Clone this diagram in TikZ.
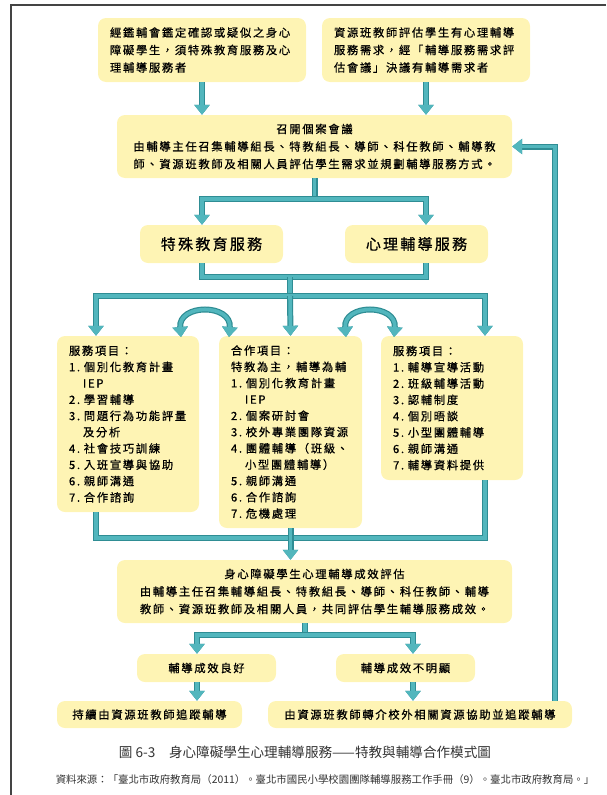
\documentclass[tikz,border=0pt]{standalone}
\usepackage{fontspec}
\setmainfont{Noto Sans CJK TC}
\newfontfamily\bxfont[LetterSpace=15,FakeBold=0.7]{Noto Sans CJK TC}
\usetikzlibrary{arrows.meta}
\definecolor{boxy}{HTML}{FEF4B4}
\definecolor{pipec}{HTML}{52B6BD}
\definecolor{piped}{HTML}{2F8D94}
\definecolor{framec}{HTML}{444444}
\tikzset{
  box/.style={fill=boxy, rounded corners=8pt, inner xsep=12pt, inner ysep=0pt,
    font=\bxfont\fontsize{11.3}{17.5}\selectfont},
  listbox/.style={box, align=left, font=\bxfont\fontsize{11.3}{16.3}\selectfont},
  bigbox/.style={box, align=center, font=\bxfont\fontsize{15}{18}\selectfont},
  pipe/.style={draw=pipec, line width=3.6pt, line join=miter,
    preaction={draw=piped, line width=6pt}},
  arr/.style={pipe, -{Triangle[width=15pt,length=10pt]}},
  arrb/.style={pipe, {Triangle[width=15pt,length=10pt]}-{Triangle[width=15pt,length=10pt]}},
}
\begin{document}
\begin{tikzpicture}[x=1pt,y=-1pt]
\useasboundingbox (0,0) rectangle (606,795);
\draw[framec, line width=1.5pt] (11,795) -- (11,5) -- (606,5);

% top boxes
\node[box, align=left, text width=184pt, minimum height=64pt] (A) at (202,50)
  {經鑑輔會鑑定確認或疑似之身心\\障礙學生，須特殊教育服務及心\\理輔導服務者};
\node[box, align=left, text width=184pt, minimum height=64pt] (B) at (426,50)
  {資源班教師評估學生有心理輔導\\服務需求，經「輔導服務需求評\\估會議」決議有輔導需求者};
\node[box, align=center, text width=371pt, minimum height=63pt] (C) at (314.5,146.5)
  {召開個案會議\\由輔導主任召集輔導組長、特教組長、導師、科任教師、輔導教\\師、資源班教師及相關人員評估學生需求並規劃輔導服務方式。};

\node[bigbox, text width=119pt, minimum height=38pt] (D) at (211.5,244) {特殊教育服務};
\node[bigbox, text width=119pt, minimum height=38pt] (E) at (416.5,244) {心理輔導服務};

\node[listbox, text width=118pt, minimum height=176pt] (F) at (128,424)
  {服務項目：\\1.~個別化教育計畫\\\hspace*{14pt}IEP\\2.~學習輔導\\3.~問題行為功能評量\\\hspace*{14pt}及分析\\4.~社會技巧訓練\\5.~入班宣導與協助\\6.~親師溝通\\7.~合作諮詢};
\node[listbox, text width=119pt, minimum height=192pt] (G) at (290.5,432)
  {合作項目：\\特教為主，輔導為輔\\1.~個別化教育計畫\\\hspace*{14pt}IEP\\2.~個案研討會\\3.~校外專業團隊資源\\4.~團體輔導（班級、\\\hspace*{14pt}小型團體輔導）\\5.~親師溝通\\6.~合作諮詢\\7.~危機處理};
\node[listbox, text width=118pt, minimum height=144pt] (H) at (452,408)
  {服務項目：\\1.~輔導宣導活動\\2.~班級輔導活動\\3.~認輔制度\\4.~個別晤談\\5.~小型團體輔導\\6.~親師溝通\\7.~輔導資料提供};

\node[box, align=center, text width=371pt, minimum height=63pt] (I) at (314.5,591.5)
  {身心障礙學生心理輔導成效評估\\由輔導主任召集輔導組長、特教組長、導師、科任教師、輔導\\教師、資源班教師及相關人員，共同評估學生輔導服務成效。};

\node[box, align=center, text width=115pt, minimum height=28pt] (J) at (206.5,668) {輔導成效良好};
\node[box, align=center, text width=115pt, minimum height=28pt] (K) at (405.5,668) {輔導成效不明顯};
\node[box, align=center, text width=161pt, minimum height=27pt] (L) at (149.5,714.5) {持續由資源班教師追蹤輔導};
\node[box, align=center, text width=280pt, minimum height=27pt] (M) at (420,714.5) {由資源班教師轉介校外相關資源協助並追蹤輔導};

% caption
\node[text=black!80, font=\fontsize{13.6}{15}\selectfont] (cap) at (305,752)
  {圖 6-3\quad 身心障礙學生心理輔導服務——特教與輔導合作模式圖};
\node[text=black!80, font=\fontsize{10.4}{12}\selectfont] (src) at (325,780)
  {資料來源：「臺北市政府教育局（2011）。臺北市國民小學校園團隊輔導服務工作手冊（9）。臺北市政府教育局。」};

% helper coordinates
\coordinate (s1) at (314,199);
\coordinate (s2) at (290,277);
\coordinate (s3) at (290,296);
\coordinate (s4) at (290,538);
\coordinate (s5) at (305,635);
\coordinate (fx) at (96,0);
\coordinate (hx) at (485,0);
\coordinate (jx) at (197,0);
\coordinate (kx) at (413,0);
\coordinate (fbx) at (555,0);
\coordinate (c1a) at (181,337);
\coordinate (c1b) at (229,337);
\coordinate (c2a) at (346,337);
\coordinate (c2b) at (394,337);

% connectors
\draw[arr] (A.south) -- (A.south |- C.north);
\draw[arr] (B.south) -- (B.south |- C.north);
\draw[pipe] (C.south) -- (C.south |- s1);
\draw[arr] (C.south |- s1) -| (A.south |- D.north);
\draw[arr] (C.south |- s1) -| (B.south |- E.north);

\draw[pipe] (A.south |- D.south) |- (B.south |- s2) -- (B.south |- E.south);
\draw[pipe] (s2) -- (s3);
\draw[arr] (s3) -| (F.north -| fx);
\draw[arr] (s3) -| (H.north -| hx);
\draw[arr] (s3) -- (G.north |- F.north);

\draw[arrb] (c1a) to[out=95,in=85,looseness=1.8] (c1b);
\draw[arrb] (c2a) to[out=95,in=85,looseness=1.8] (c2b);

\draw[pipe] (F.south -| fx) |- (s4 -| hx) -- (H.south -| hx);
\draw[arr] (G.south) -- (G.south |- I.north);

\draw[pipe] (I.south -| s5) -- (s5);
\draw[arr] (s5) -| (J.north -| jx);
\draw[arr] (s5) -| (K.north -| kx);
\draw[arr] (J.south -| jx) -- (L.north -| jx);
\draw[arr] (K.south -| kx) -- (M.north -| kx);
\draw[arr] (M.north -| fbx) |- (C.east);
\end{tikzpicture}
\end{document}
